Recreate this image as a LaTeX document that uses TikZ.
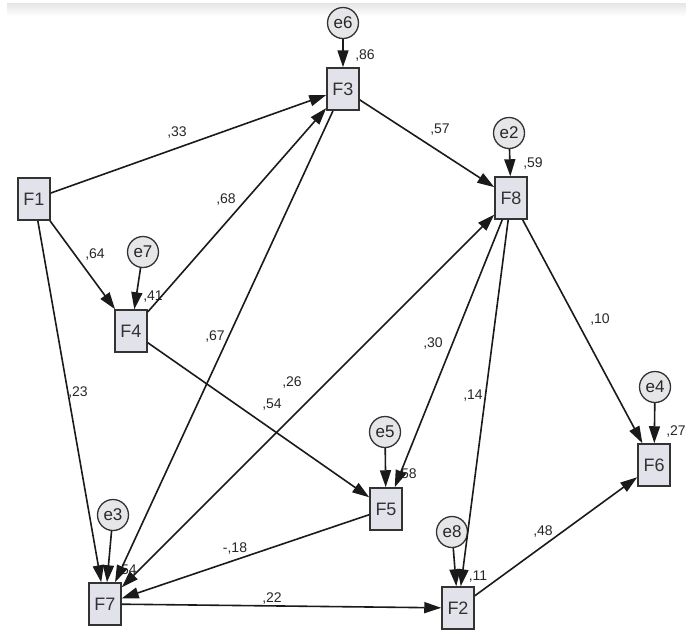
\documentclass[tikz,border=0pt]{standalone}
\usepackage{fontspec}
\setmainfont{Liberation Sans}
\usetikzlibrary{arrows.meta}
\definecolor{boxfill}{HTML}{E2E2EA}
\definecolor{errfill}{HTML}{E6E6E8}
\definecolor{edgecol}{HTML}{1A1A1A}
\begin{document}
\begin{tikzpicture}[x=1pt,y=-1pt,
  var/.style={draw=black!80,line width=1.5pt,fill=boxfill,minimum width=32pt,minimum height=42pt,inner sep=0pt,font=\fontsize{18}{18}\selectfont,text=black!80},
  err/.style={circle,draw=black!80,line width=1.3pt,fill=errfill,minimum size=31pt,inner sep=0pt,font=\fontsize{17}{17}\selectfont,text=black!85},
  arr/.style={draw=edgecol,line width=1.6pt,-{Triangle[length=17pt,width=11pt]}},
  biarr/.style={draw=edgecol,line width=1.6pt,{Triangle[length=17pt,width=11pt]}-{Triangle[length=17pt,width=11pt]}},
  lbl/.style={font=\fontsize{14}{14}\selectfont,inner sep=0pt,text=black!85}
]
\useasboundingbox (0,0) rectangle (686,630);
\shade[top color=black!10,bottom color=white] (7,3) rectangle (686,16);

% labels (drawn first, connectors overlay them)
\node[lbl] (l33) at (177,133) {,33};
\node[lbl] (l86) at (365,56) {,86};
\node[lbl] (l57) at (440,130) {,57};
\node[lbl] (l59) at (533,164) {,59};
\node[lbl] (l68) at (226,200) {,68};
\node[lbl] (l64) at (95,255) {,64};
\node[lbl] (l41) at (153,297) {,41};
\node[lbl] (l67) at (215,337) {,67};
\node[lbl] (l23) at (78,393) {,23};
\node[lbl] (l26) at (292,383) {,26};
\node[lbl] (l54a) at (272,405) {,54};
\node[lbl] (l30) at (433,344) {,30};
\node[lbl] (l14) at (473,396) {,14};
\node[lbl] (l10) at (600,320) {,10};
\node[lbl] (l27) at (676,431) {,27};
\node[lbl] (l58) at (407,474) {,58};
\node[lbl] (l11) at (478,577) {,11};
\node[lbl] (l48) at (543,531) {,48};
\node[lbl] (l18) at (235,548) {-,18};
\node[lbl] (l22) at (272,598) {,22};
\node[lbl] (l54b) at (127,571) {,54};

% observed variables
\node[var] (F1) at (34,199) {F1};
\node[var] (F3) at (343,89) {F3};
\node[var] (F8) at (511,198) {F8};
\node[var] (F4) at (131,331) {F4};
\node[var] (F5) at (386,509) {F5};
\node[var] (F2) at (458,608) {F2};
\node[var] (F7) at (105,604) {F7};
\node[var] (F6) at (654,465) {F6};

% error terms
\node[err] (e6) at (343,23) {e6};
\node[err] (e2) at (509,133) {e2};
\node[err] (e7) at (143,252) {e7};
\node[err] (e5) at (385,432) {e5};
\node[err] (e8) at (452,532) {e8};
\node[err] (e3) at (113,515) {e3};
\node[err] (e4) at (655,387) {e4};

% paths
\draw[arr] (F1) -- (F3);
\draw[arr] (F1) -- (F4);
\draw[arr] (F1) -- (F7);
\draw[arr] (F4) -- (F3);
\draw[arr] (F3) -- (F7);
\draw[arr] (F3) -- (F8);
\draw[biarr] (F7) -- (F8);
\draw[arr] (F4) -- (F5);
\draw[arr] (F8) -- (F5);
\draw[arr] (F8) -- (F2);
\draw[arr] (F8) -- (F6);
\draw[arr] (F5) -- (F7);
\draw[arr] (F7) -- (F2);
\draw[arr] (F2) -- (F6);

\draw[arr] (e6) -- (F3);
\draw[arr] (e2) -- (F8);
\draw[arr] (e7) -- (F4);
\draw[arr] (e5) -- (F5);
\draw[arr] (e8) -- (F2);
\draw[arr] (e3) -- (F7);
\draw[arr] (e4) -- (F6);
\end{tikzpicture}
\end{document}
